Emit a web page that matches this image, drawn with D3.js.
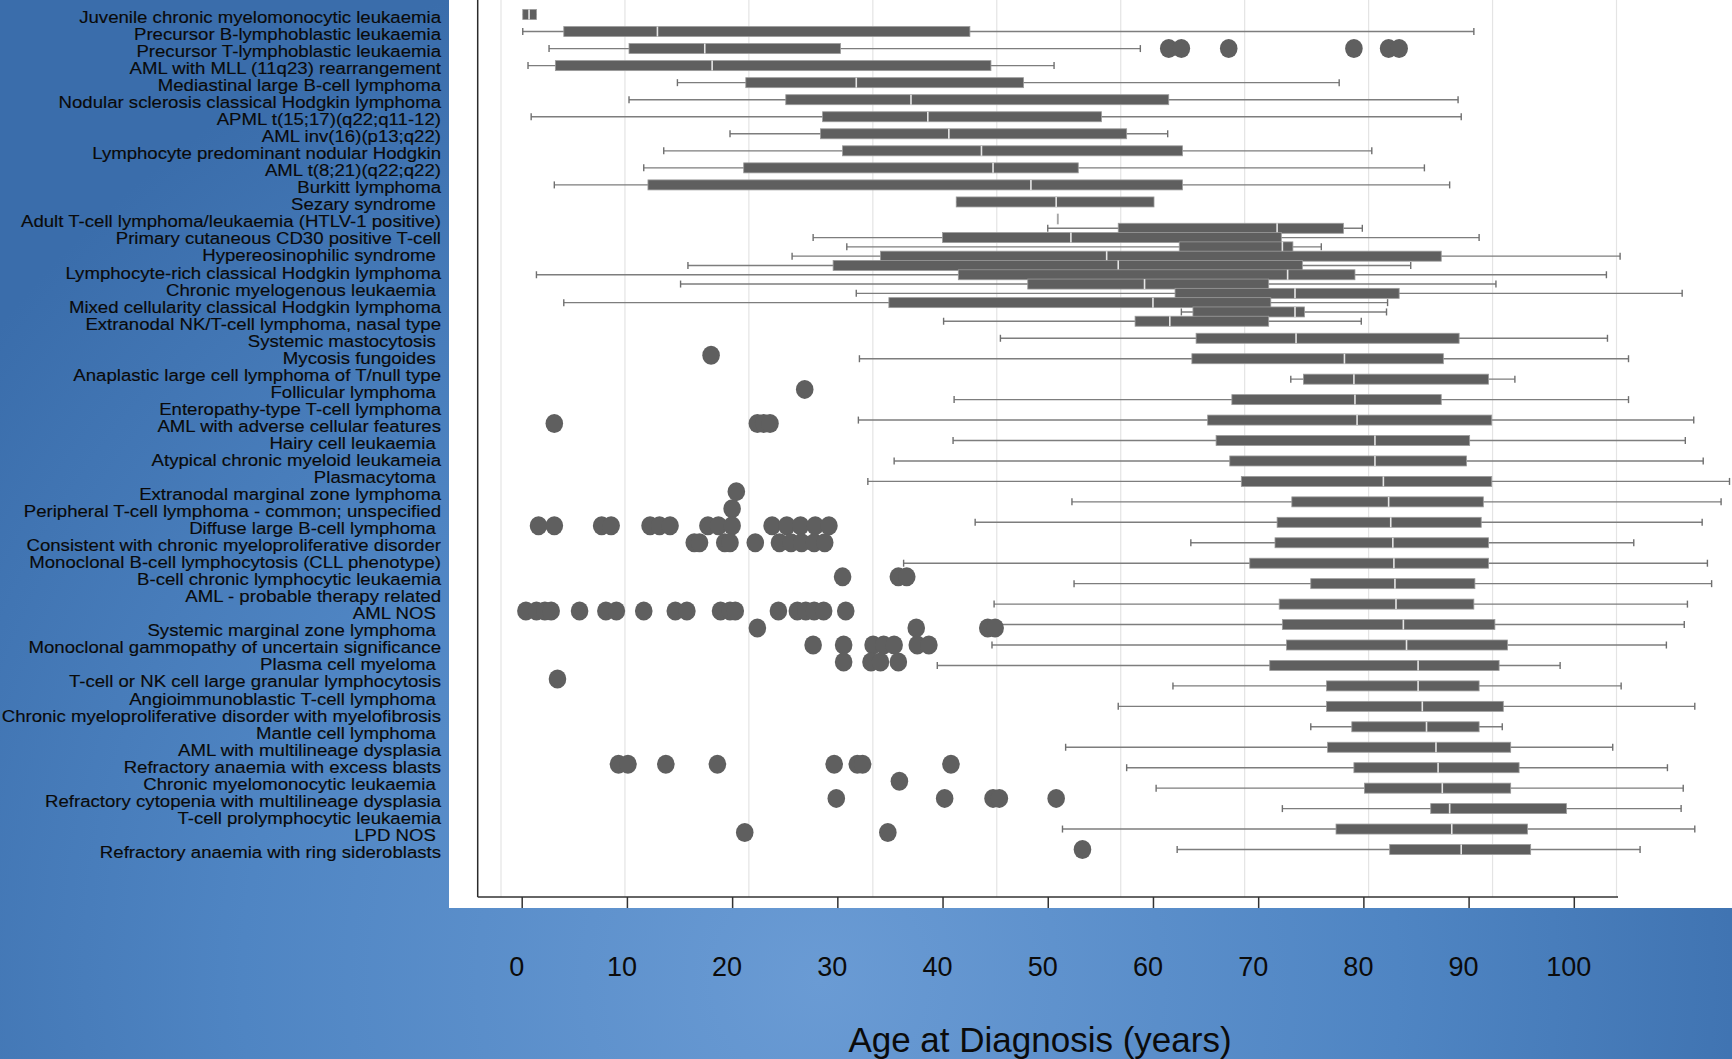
<!DOCTYPE html>
<html>
<head>
<meta charset="utf-8">
<script src="https://cdn.jsdelivr.net/npm/d3@7"></script>
<style>
  html, body { margin: 0; padding: 0; overflow: hidden; background: #3f73b0; }
  svg { display: block; font-family: "Liberation Sans", Arial, Helvetica, sans-serif; }
</style>
</head>
<body>
<svg id="chart" width="1732" height="1059"></svg>
<script>
// Diagnoses, in the order they are listed down the left side
const categories = [
  "Juvenile chronic myelomonocytic leukaemia",
  "Precursor B-lymphoblastic leukaemia",
  "Precursor T-lymphoblastic leukaemia",
  "AML with MLL (11q23) rearrangement",
  "Mediastinal large B-cell lymphoma",
  "Nodular sclerosis classical Hodgkin lymphoma",
  "APML t(15;17)(q22;q11-12)",
  "AML inv(16)(p13;q22)",
  "Lymphocyte predominant nodular Hodgkin",
  "AML t(8;21)(q22;q22)",
  "Burkitt lymphoma",
  "Sezary syndrome ",
  "Adult T-cell lymphoma/leukaemia (HTLV-1 positive)",
  "Primary cutaneous CD30 positive T-cell",
  "Hypereosinophilic syndrome ",
  "Lymphocyte-rich classical Hodgkin lymphoma",
  "Chronic myelogenous leukaemia ",
  "Mixed cellularity classical Hodgkin lymphoma",
  "Extranodal NK/T-cell lymphoma, nasal type",
  "Systemic mastocytosis ",
  "Mycosis fungoides ",
  "Anaplastic large cell lymphoma of T/null type",
  "Follicular lymphoma ",
  "Enteropathy-type T-cell lymphoma",
  "AML with adverse cellular features",
  "Hairy cell leukaemia ",
  "Atypical chronic myeloid leukameia",
  "Plasmacytoma ",
  "Extranodal marginal zone lymphoma",
  "Peripheral T-cell lymphoma - common; unspecified",
  "Diffuse large B-cell lymphoma ",
  "Consistent with chronic myeloproliferative disorder",
  "Monoclonal B-cell lymphocytosis (CLL phenotype)",
  "B-cell chronic lymphocytic leukaemia",
  "AML - probable therapy related",
  "AML NOS ",
  "Systemic marginal zone lymphoma ",
  "Monoclonal gammopathy of uncertain significance",
  "Plasma cell myeloma ",
  "T-cell or NK cell large granular lymphocytosis",
  "Angioimmunoblastic T-cell lymphoma ",
  "Chronic myeloproliferative disorder with myelofibrosis",
  "Mantle cell lymphoma ",
  "AML with multilineage dysplasia",
  "Refractory anaemia with excess blasts",
  "Chronic myelomonocytic leukaemia ",
  "Refractory cytopenia with multilineage dysplasia",
  "T-cell prolymphocytic leukaemia",
  "LPD NOS ",
  "Refractory anaemia with ring sideroblasts"
];

// Box-plot summaries (age in years), one per box, boxes taken in drawing order
const lowWhisker = [0.1, 0.1, 2.6, 0.6, 14.8, 10.2, 0.9, 19.8, 13.5, 11.6, 3.1, 41.3,
  50.9, 50.0, 27.7, 30.9, 25.7, 15.8, 1.4, 15.1, 31.8, 4.0, 62.7, 40.1,
  45.5, 32.1, 73.1, 41.1, 32.0, 41.0, 35.4, 32.9, 52.3, 43.1, 63.6, 36.3, 52.5,
  44.9, 45.5, 44.7, 39.5, 61.9, 56.7, 75.0, 51.7, 57.5, 60.3, 72.3, 51.4, 62.3];
const lowerQuartile = [0.1, 4.0, 10.2, 3.2, 21.3, 25.1, 28.6, 28.4, 30.5, 21.1, 12.0, 41.3,
  50.9, 56.7, 40.0, 62.5, 34.1, 29.6, 41.5, 48.1, 62.1, 34.9, 63.8, 58.3,
  64.1, 63.7, 74.3, 67.5, 65.2, 66.0, 67.3, 68.4, 73.2, 71.8, 71.6, 69.2, 75.0,
  72.0, 72.3, 72.7, 71.1, 76.5, 76.5, 78.9, 76.6, 79.1, 80.1, 86.4, 77.4, 82.5];
const medianAge = [0.7, 12.9, 17.4, 18.1, 31.8, 37.0, 38.6, 40.6, 43.7, 44.8, 48.4, 50.8,
  50.9, 71.8, 52.2, 72.3, 55.6, 56.7, 72.8, 59.2, 73.5, 60.0, 73.5, 61.6,
  73.6, 78.2, 79.1, 79.2, 79.4, 81.1, 81.1, 81.9, 82.4, 82.6, 82.8, 82.9, 83.0,
  83.1, 83.8, 84.1, 85.2, 85.2, 85.6, 86.0, 86.9, 87.1, 87.5, 88.2, 88.4, 89.3];
const upperQuartile = [1.4, 42.6, 30.3, 44.6, 47.7, 61.5, 55.1, 57.5, 62.8, 52.9, 62.8, 60.1,
  50.9, 78.1, 72.2, 73.3, 87.4, 74.2, 79.2, 71.0, 83.4, 71.2, 74.4, 71.0,
  89.1, 87.6, 91.9, 87.4, 92.2, 90.1, 89.8, 92.2, 91.4, 91.2, 91.9, 91.9, 90.6,
  90.5, 92.5, 93.7, 92.9, 91.0, 93.3, 91.0, 94.0, 94.8, 94.0, 99.3, 95.6, 95.9];
const highWhisker = [1.4, 90.5, 58.8, 50.6, 77.7, 89.0, 89.3, 61.4, 80.8, 85.8, 88.2, 60.1,
  50.9, 79.9, 91.0, 76.0, 104.4, 84.5, 103.1, 92.6, 110.3, 82.3, 82.2, 79.8,
  103.2, 105.2, 94.4, 105.2, 111.4, 110.6, 112.3, 114.8, 114.0, 112.2, 105.7, 112.7, 113.1,
  110.8, 110.5, 108.8, 98.7, 104.5, 111.5, 93.2, 103.7, 108.9, 110.4, 110.2, 111.5, 106.3];

// Individual outlying cases, listed against each diagnosis row
const outlierAges = [
  [], [], [61.5, 62.7, 67.2, 79.1, 82.4, 83.4], [], [], [], [], [], [], [], [], [],
  [], [], [], [], [], [], [], [],
  [18.0], [], [26.9], [],
  [3.1, 22.4, 23.0, 23.6],
  [], [], [],
  [20.4],
  [20.0],
  [1.6, 3.1, 7.6, 8.5, 12.2, 13.1, 14.1, 17.7, 18.7, 20.0, 23.8, 25.2, 26.5, 27.9, 29.2],
  [16.4, 16.9, 19.3, 19.8, 22.2, 24.5, 25.6, 26.6, 27.8, 28.8],
  [],
  [30.5, 35.8, 36.6],
  [],
  [0.4, 1.4, 2.2, 2.8, 5.5, 8.0, 9.0, 11.6, 14.6, 15.7, 18.9, 19.8, 20.3, 24.4, 26.2, 27.0, 27.8, 28.7, 30.8],
  [22.4, 37.5, 44.3, 45.0],
  [27.7, 30.6, 33.4, 34.4, 35.4, 37.6, 38.7],
  [30.6, 33.2, 34.1, 35.8],
  [3.4],
  [], [], [], [],
  [9.2, 10.1, 13.7, 18.6, 29.7, 31.9, 32.4, 40.8],
  [35.9],
  [29.9, 40.2, 44.8, 45.4, 50.8],
  [],
  [21.2, 34.8],
  [53.3]
];

const tickYears = [0, 10, 20, 30, 40, 50, 60, 70, 80, 90, 100];
const axisTitle = "Age at Diagnosis (years)";

// ---------------------------------------------------------------------------
const W = 1732, H = 1059;
const svg = d3.select("#chart");

// Slide background: blue with a soft lighter glow low in the middle
const defs = svg.append("defs");
const glow = defs.append("radialGradient").attr("id", "slideBlue")
  .attr("gradientUnits", "userSpaceOnUse")
  .attr("cx", 820).attr("cy", 980).attr("r", 1050);
glow.append("stop").attr("offset", "0%").attr("stop-color", "#6a9bd4");
glow.append("stop").attr("offset", "55%").attr("stop-color", "#4f85c3");
glow.append("stop").attr("offset", "100%").attr("stop-color", "#3a6dab");
svg.append("rect").attr("width", W).attr("height", H).attr("fill", "url(#slideBlue)");

// White plotting panel
const panel = { left: 449, top: 0, right: W, bottom: 908 };
svg.append("rect")
  .attr("x", panel.left).attr("y", panel.top)
  .attr("width", panel.right - panel.left).attr("height", panel.bottom - panel.top)
  .attr("fill", "#ffffff");

// Scales
const x = d3.scaleLinear().domain([0, 100]).range([521.7, 1573.8]);
const gridScale = d3.scaleLinear().domain([0, 90]).range([501, 1616.5]);
const yRow = d3.scalePoint().domain(categories).range([14.5, 849.5]);

// Boxes sit on three stretches of the row axis: the first twelve follow the
// label rows, the next twelve are packed between rows 13 and 19, the rest
// spread evenly from row 20 to the last row.
const topBoxes = categories.slice(0, 12);
const midBoxes = categories.slice(12, 24);
const lowBoxes = categories.slice(24);
const yTop = d3.scalePoint().domain(topBoxes).range([yRow(categories[0]), yRow(categories[11])]);
const yMid = d3.scalePoint().domain(midBoxes).range([yRow(categories[12]), yRow(categories[18])]);
const yLow = d3.scalePoint().domain(lowBoxes).range([yRow(categories[19]), yRow(categories[49])]);
const boxY = (name, i) => i < 12 ? yTop(name) : (i < 24 ? yMid(name) : yLow(name));

const plotLeft = 477.7, plotBottom = 897, plotRight = 1618;

// Vertical gridlines
svg.append("g").selectAll("line")
  .data(gridScale.ticks(10))
  .join("line")
  .attr("x1", d => gridScale(d)).attr("x2", d => gridScale(d))
  .attr("y1", 0).attr("y2", plotBottom)
  .attr("stroke", "#e4e4e4").attr("stroke-width", 1.2);

// Box plots
const boxes = categories.map((name, i) => ({
  name, i,
  lo: lowWhisker[i], q1: lowerQuartile[i], med: medianAge[i],
  q3: upperQuartile[i], hi: highWhisker[i]
}));
const boxH = 10, capH = 7;
const bg = svg.append("g").selectAll("g").data(boxes).join("g")
  .attr("transform", d => `translate(0,${boxY(d.name, d.i)})`);

bg.append("line")
  .attr("x1", d => x(d.lo)).attr("x2", d => x(d.hi))
  .attr("stroke", "#7d7d7d").attr("stroke-width", 1.4);
bg.filter(d => d.lo < d.q1).append("line")
  .attr("x1", d => x(d.lo)).attr("x2", d => x(d.lo))
  .attr("y1", -capH / 2).attr("y2", capH / 2)
  .attr("stroke", "#6f6f6f").attr("stroke-width", 1.4);
bg.filter(d => d.hi > d.q3).append("line")
  .attr("x1", d => x(d.hi)).attr("x2", d => x(d.hi))
  .attr("y1", -capH / 2).attr("y2", capH / 2)
  .attr("stroke", "#6f6f6f").attr("stroke-width", 1.4);
bg.append("rect")
  .attr("x", d => x(d.q1)).attr("y", -boxH / 2)
  .attr("width", d => Math.max(1.2, x(d.q3) - x(d.q1))).attr("height", boxH)
  .attr("fill", "#5f5f5f")
  .attr("stroke", d => d.q3 > d.q1 ? "#9b9b9b" : "#bcbcbc").attr("stroke-width", 0.8);
bg.filter(d => d.q3 > d.q1).append("line")
  .attr("x1", d => x(d.med)).attr("x2", d => x(d.med))
  .attr("y1", -boxH / 2).attr("y2", boxH / 2)
  .attr("stroke", "#e6e6e6").attr("stroke-width", 1.6);

// Outlying cases
const pts = [];
outlierAges.forEach((ages, i) => ages.forEach(a => pts.push({ name: categories[i], age: a })));
svg.append("g").selectAll("ellipse").data(pts).join("ellipse")
  .attr("cx", d => x(d.age)).attr("cy", d => yRow(d.name))
  .attr("rx", 8.8).attr("ry", 9.5)
  .attr("fill", "#5f5f5f");

// Plot frame: left rule and bottom axis with ticks
svg.append("line")
  .attr("x1", plotLeft).attr("x2", plotLeft).attr("y1", 0).attr("y2", plotBottom)
  .attr("stroke", "#2b2b2b").attr("stroke-width", 1.5);
svg.append("line")
  .attr("x1", plotLeft).attr("x2", plotRight).attr("y1", plotBottom).attr("y2", plotBottom)
  .attr("stroke", "#333").attr("stroke-width", 1.5);

const xAxis = d3.axisBottom(x).tickValues(tickYears).tickSize(panel.bottom - plotBottom)
  .tickPadding(49).tickFormat(d3.format("d"));
const axisG = svg.append("g").attr("transform", `translate(0,${plotBottom})`).call(xAxis);
axisG.select(".domain").remove();
axisG.selectAll(".tick line").attr("stroke", "#333").attr("stroke-width", 1.5);
axisG.selectAll(".tick text")
  .attr("fill", "#0b0b0b").attr("font-size", 27).attr("dx", -5.5)
  .style("font-family", "'Liberation Sans', Arial, sans-serif");

// Axis title
svg.append("text")
  .attr("x", 1040).attr("y", 1052)
  .attr("text-anchor", "middle").attr("font-size", 35).attr("fill", "#0b0b0b")
  .text(axisTitle);

// Row labels
svg.append("g").selectAll("text").data(categories).join("text")
  .attr("transform", d => `translate(441,${yRow(d) + 8.4}) scale(1.07,1)`)
  .attr("text-anchor", "end")
  .attr("font-size", 17.4)
  .attr("fill", "#0a0a0a")
  .attr("stroke", "#0a0a0a").attr("stroke-width", 0.15)
  .style("white-space", "pre")
  .text(d => d);
</script>
</body>
</html>
